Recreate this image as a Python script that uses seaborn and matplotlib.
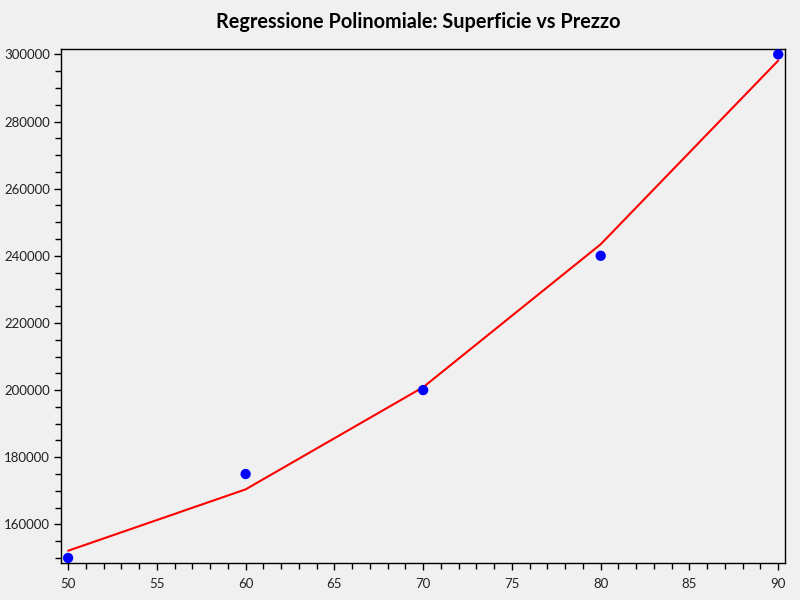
import matplotlib
matplotlib.use("Agg")
import matplotlib.pyplot as plt
import seaborn as sns
import pandas as pd
from matplotlib.ticker import MultipleLocator

superficie = [50, 60, 70, 80, 90]
prezzo = [150000, 175000, 200000, 240000, 300000]
prezzo_fit = [152143, 170429, 200857, 243429, 298143]

sns.set_style("ticks")
plt.rcParams['font.family'] = ['Lato', 'DejaVu Sans']

df = pd.DataFrame({"Superficie": superficie, "Prezzo": prezzo, "Fit": prezzo_fit})

fig = plt.figure(figsize=(8, 6), dpi=100, facecolor="#f0f0f0")
ax = fig.add_axes([0.07625, 0.0617, 0.9054, 0.8561])
ax.set_facecolor("#f0f0f0")

sns.lineplot(data=df, x="Superficie", y="Fit", color="red", linewidth=1.5, ax=ax, zorder=2)
sns.scatterplot(data=df, x="Superficie", y="Prezzo", color="blue", s=55, edgecolor="none", ax=ax, zorder=3)

ax.set_xlim(49.6, 90.4)
ax.set_ylim(148500, 301500)
ax.xaxis.set_major_locator(MultipleLocator(5))
ax.xaxis.set_minor_locator(MultipleLocator(1))
ax.yaxis.set_major_locator(MultipleLocator(20000))
ax.yaxis.set_minor_locator(MultipleLocator(5000))
ax.tick_params(which="major", length=5, width=1, color="black", labelsize=9.5, labelcolor="#222222", direction="out", pad=3)
ax.tick_params(axis="x", which="major", pad=6)
ax.tick_params(which="minor", length=4, width=1, color="black", direction="out")
ax.set_xlabel("")
ax.set_ylabel("")
for sp in ax.spines.values():
    sp.set_visible(True)
    sp.set_color("black")
    sp.set_linewidth(1)

fig.text(0.523, 0.963, "Regressione Polinomiale: Superficie vs Prezzo", fontsize=14.3,
         fontweight="bold", ha="center", va="center", color="black")

fig.savefig("out.png", dpi=100, facecolor="#f0f0f0")
